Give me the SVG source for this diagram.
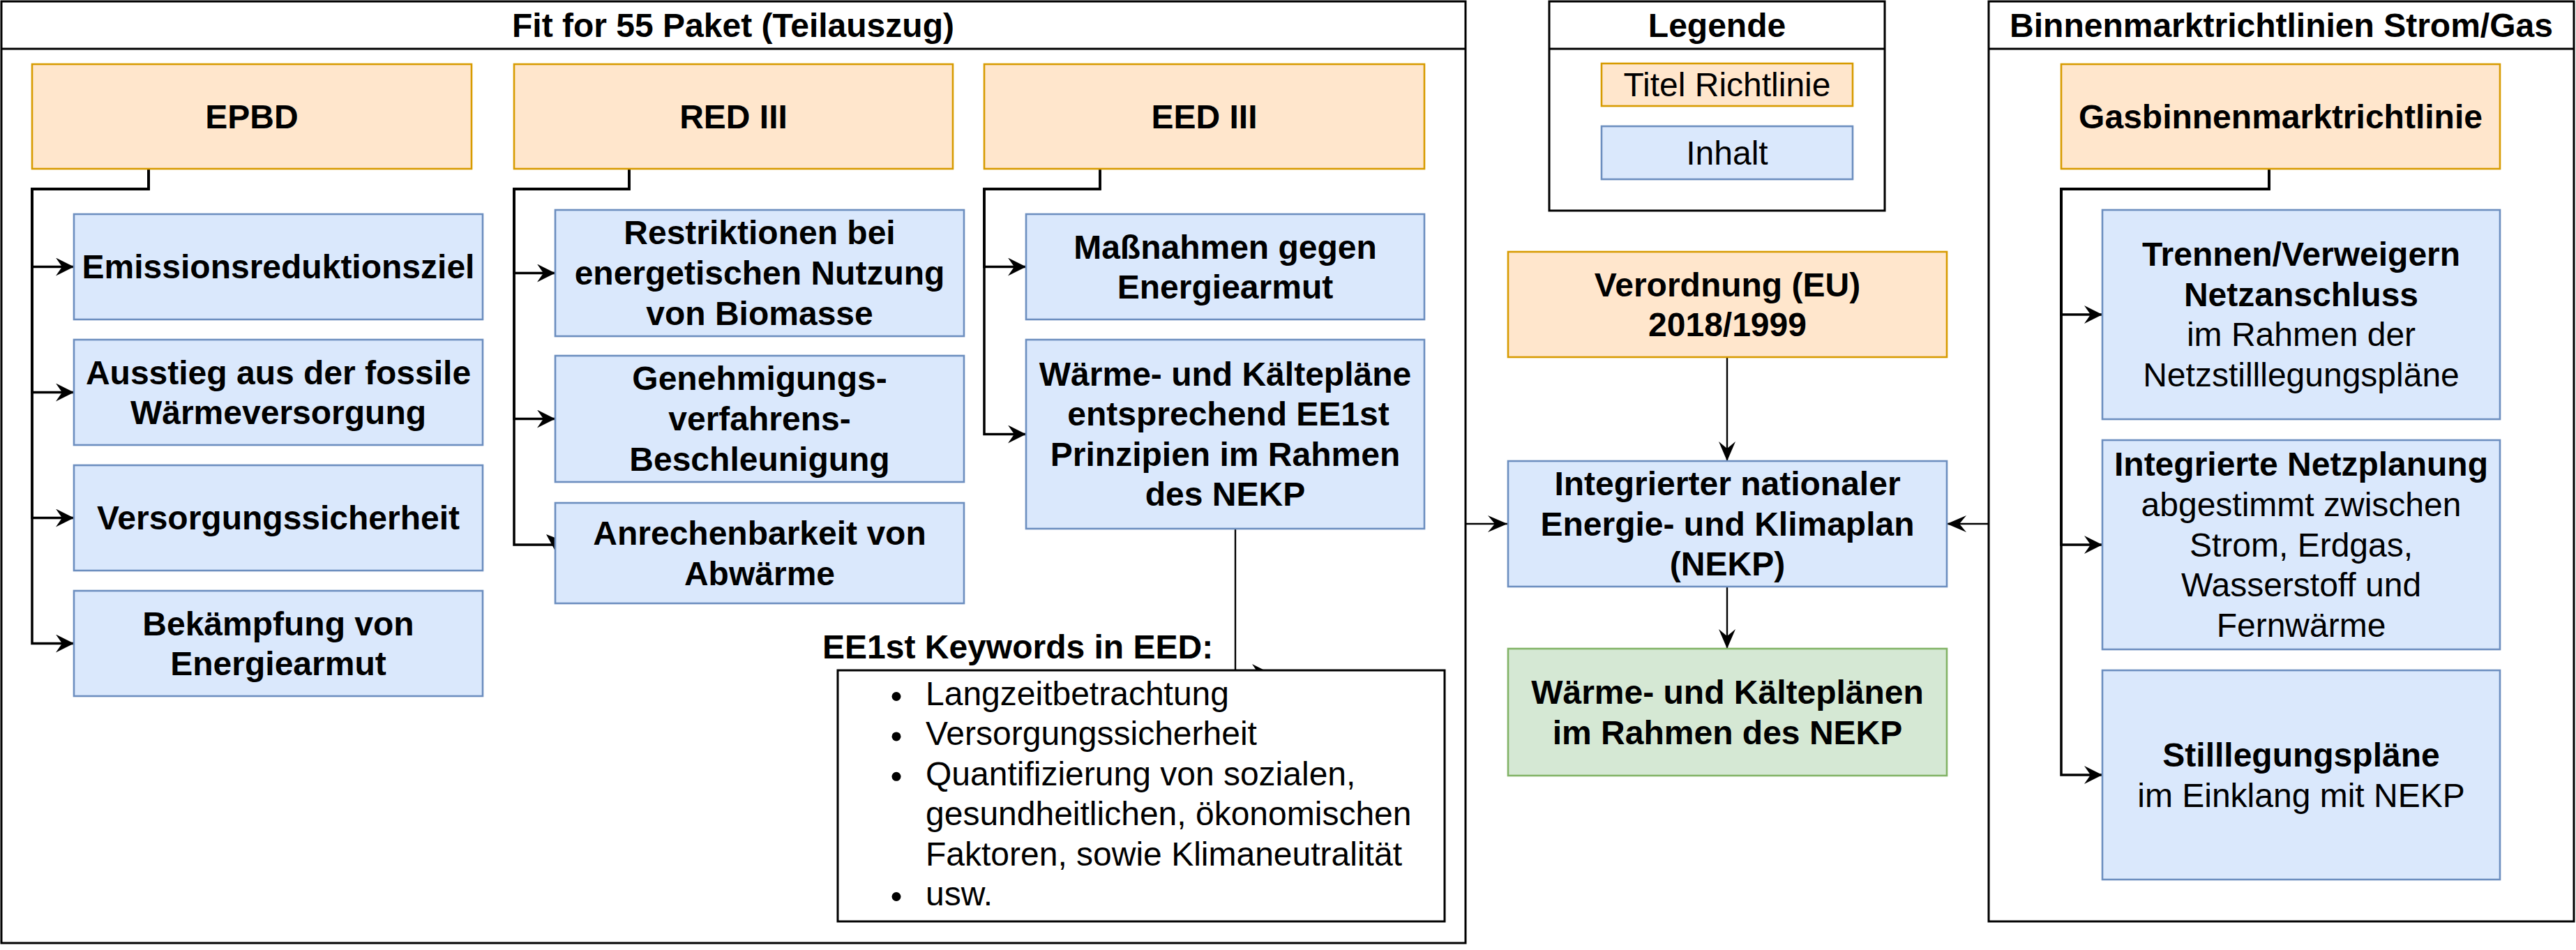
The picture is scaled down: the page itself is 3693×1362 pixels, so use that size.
<svg xmlns="http://www.w3.org/2000/svg" width="3693" height="1362" viewBox="0 0 3693 1362">
<defs>
<style>
text{font-family:"Liberation Sans",Arial,Helvetica,sans-serif;font-size:48px;fill:#000;text-anchor:middle}
.b{font-weight:bold}
.l{text-anchor:start}
.frame{fill:#fff;stroke:#000;stroke-width:3}
.org{fill:#ffe6cc;stroke:#d79b00;stroke-width:2.6}
.blu{fill:#dae8fc;stroke:#6c8ebf;stroke-width:2.6}
.grn{fill:#d5e8d4;stroke:#82b366;stroke-width:2.6}
.tr{fill:none;stroke:#000;stroke-width:3.5}
.th{fill:none;stroke:#000;stroke-width:2.4}
</style>
<marker id="arr" markerUnits="userSpaceOnUse" viewBox="0 0 26 26" markerWidth="26" markerHeight="26" refX="26" refY="13" orient="auto">
<path d="M0,0 L26,13 L0,26 L9,13 Z" fill="#000"/>
</marker>
<marker id="arrT" markerUnits="userSpaceOnUse" viewBox="0 0 28 24" markerWidth="28" markerHeight="24" refX="28" refY="12" orient="auto">
<path d="M0,0 L28,12 L0,24 L10,12 Z" fill="#000"/>
</marker>
</defs>
<rect width="3693" height="1362" fill="#fff"/>

<g id="frame-fit55">
<rect class="frame" x="2" y="2" width="2099" height="1350"/>
<line x1="2" y1="70" x2="2101" y2="70" stroke="#000" stroke-width="3"/>
<text class="b" x="1051" y="52.5">Fit for 55 Paket (Teilauszug)</text>
</g>
<g id="frame-legende">
<rect class="frame" x="2221" y="2" width="481" height="300"/>
<line x1="2221" y1="70" x2="2702" y2="70" stroke="#000" stroke-width="3"/>
<text class="b" x="2461.5" y="52.5">Legende</text>
</g>
<g id="frame-binnen">
<rect class="frame" x="2851" y="2" width="839" height="1319"/>
<line x1="2851" y1="70" x2="3690" y2="70" stroke="#000" stroke-width="3"/>
<text class="b" x="3270.5" y="52.5">Binnenmarktrichtlinien Strom/Gas</text>
</g>

<g id="connectors">
<path class="tr" d="M213,242 V271 H46 V382.5 H106" marker-end="url(#arr)"/>
<path class="tr" d="M213,242 V271 H46 V562.5 H106" marker-end="url(#arr)"/>
<path class="tr" d="M213,242 V271 H46 V742.5 H106" marker-end="url(#arr)"/>
<path class="tr" d="M213,242 V271 H46 V922.5 H106" marker-end="url(#arr)"/>
<path class="tr" d="M902,242 V271 H737 V391.5 H796" marker-end="url(#arr)"/>
<path class="tr" d="M902,242 V271 H737 V600.5 H796" marker-end="url(#arr)"/>
<path class="tr" d="M902,242 V271 H737 V781 H795"/>
<polygon points="783,766 796,771 796,790" fill="#000"/>
<path class="tr" d="M1577,242 V271 H1411 V382.5 H1471" marker-end="url(#arr)"/>
<path class="tr" d="M1577,242 V271 H1411 V622.5 H1471" marker-end="url(#arr)"/>
<path class="tr" d="M3253,242 V271 H2955 V451 H3014" marker-end="url(#arr)"/>
<path class="tr" d="M3253,242 V271 H2955 V781 H3014" marker-end="url(#arr)"/>
<path class="tr" d="M3253,242 V271 H2955 V1111 H3014" marker-end="url(#arr)"/>
<path class="th" d="M2476,512 V661" marker-end="url(#arrT)"/>
<path class="th" d="M2476,841 V930" marker-end="url(#arrT)"/>
<path class="th" d="M2101,751 H2161" marker-end="url(#arrT)"/>
<path class="th" d="M2851,751 H2791" marker-end="url(#arrT)"/>
<path class="th" d="M1771,758 V961"/>
<polygon points="1795,952 1813,961 1801,961" fill="#000"/>
</g>

<g id="node-epbd"><rect class="org" x="46" y="92" width="630" height="150"/><text class="b" x="361" y="183.5">EPBD</text></g>
<g id="node-red3"><rect class="org" x="737" y="92" width="629" height="150"/><text class="b" x="1051.5" y="183.5">RED III</text></g>
<g id="node-eed3"><rect class="org" x="1411" y="92" width="631" height="150"/><text class="b" x="1726.5" y="183.5">EED III</text></g>

<g id="node-e1"><rect class="blu" x="106" y="307" width="586" height="151"/><text class="b" x="399" y="399">Emissionsreduktionsziel</text></g>
<g id="node-e2"><rect class="blu" x="106" y="487" width="586" height="151"/><text class="b" x="399" y="550.5">Ausstieg aus der fossile<tspan x="399" y="608">Wärmeversorgung</tspan></text></g>
<g id="node-e3"><rect class="blu" x="106" y="667" width="586" height="151"/><text class="b" x="399" y="759">Versorgungssicherheit</text></g>
<g id="node-e4"><rect class="blu" x="106" y="847" width="586" height="151"/><text class="b" x="399" y="910.5">Bekämpfung von<tspan x="399" y="968">Energiearmut</tspan></text></g>

<g id="node-r1"><rect class="blu" x="796" y="301" width="586" height="181"/><text class="b" x="1089" y="350.3">Restriktionen bei<tspan x="1089" y="407.9">energetischen Nutzung</tspan><tspan x="1089" y="465.5">von Biomasse</tspan></text></g>
<g id="node-r2"><rect class="blu" x="796" y="510" width="586" height="181"/><text class="b" x="1089" y="559.3">Genehmigungs-<tspan x="1089" y="616.9">verfahrens-</tspan><tspan x="1089" y="674.5">Beschleunigung</tspan></text></g>
<g id="node-r3"><rect class="blu" x="796" y="721" width="586" height="144"/><text class="b" x="1089" y="781">Anrechenbarkeit von<tspan x="1089" y="838.6">Abwärme</tspan></text></g>

<g id="node-d1"><rect class="blu" x="1471" y="307" width="571" height="151"/><text class="b" x="1756.5" y="370.5">Maßnahmen gegen<tspan x="1756.5" y="428">Energiearmut</tspan></text></g>
<g id="node-d2"><rect class="blu" x="1471" y="487" width="571" height="271"/><text class="b" x="1756.5" y="552.6">Wärme- und Kältepläne<tspan x="1761" y="610.2">entsprechend EE1st</tspan><tspan x="1756.5" y="667.8">Prinzipien im Rahmen</tspan><tspan x="1756.5" y="725.4">des NEKP</tspan></text></g>

<g id="node-keywords">
<text class="b l" x="1179" y="944">EE1st Keywords in EED:</text>
<rect class="frame" x="1201" y="961" width="870" height="360"/>
<circle cx="1285" cy="998.5" r="6.5"/>
<circle cx="1285" cy="1055.9" r="6.5"/>
<circle cx="1285" cy="1113.3" r="6.5"/>
<circle cx="1285" cy="1285.5" r="6.5"/>
<text class="l" x="1327" y="1011">Langzeitbetrachtung</text>
<text class="l" x="1327" y="1068.4">Versorgungssicherheit</text>
<text class="l" x="1327" y="1125.8">Quantifizierung von sozialen,</text>
<text class="l" x="1327" y="1183.2">gesundheitlichen, ökonomischen</text>
<text class="l" x="1327" y="1240.6">Faktoren, sowie Klimaneutralität</text>
<text class="l" x="1327" y="1298">usw.</text>
</g>

<g id="legend-titel"><rect class="org" x="2296" y="91" width="360" height="61"/><text x="2476" y="138">Titel Richtlinie</text></g>
<g id="legend-inhalt"><rect class="blu" x="2296" y="181" width="360" height="76"/><text x="2476" y="235.5">Inhalt</text></g>

<g id="node-verordnung"><rect class="org" x="2162" y="361" width="629" height="151"/><text class="b" x="2476.5" y="424.5">Verordnung (EU)<tspan x="2476.5" y="482">2018/1999</tspan></text></g>
<g id="node-nekp"><rect class="blu" x="2162" y="661" width="629" height="180"/><text class="b" x="2476.5" y="710.2">Integrierter nationaler<tspan x="2476.5" y="767.8">Energie- und Klimaplan</tspan><tspan x="2476.5" y="825.4">(NEKP)</tspan></text></g>
<g id="node-waerme"><rect class="grn" x="2162" y="930" width="629" height="182"/><text class="b" x="2476.5" y="1009">Wärme- und Kälteplänen<tspan x="2476.5" y="1066.6">im Rahmen des NEKP</tspan></text></g>

<g id="node-gas"><rect class="org" x="2955" y="92" width="629" height="150"/><text class="b" x="3269.5" y="183.5">Gasbinnenmarktrichtlinie</text></g>
<g id="node-g1"><rect class="blu" x="3014" y="301" width="570" height="300"/><text class="b" x="3299" y="381.2">Trennen/Verweigern<tspan x="3299" y="438.8">Netzanschluss</tspan></text><text x="3299" y="496.4">im Rahmen der<tspan x="3299" y="554">Netzstilllegungspläne</tspan></text></g>
<g id="node-g2"><rect class="blu" x="3014" y="631" width="570" height="300"/><text class="b" x="3299" y="682.4">Integrierte Netzplanung</text><text x="3299" y="740">abgestimmt zwischen<tspan x="3299" y="797.6">Strom, Erdgas,</tspan><tspan x="3299" y="855.2">Wasserstoff und</tspan><tspan x="3299" y="912.8">Fernwärme</tspan></text></g>
<g id="node-g3"><rect class="blu" x="3014" y="961" width="570" height="300"/><text class="b" x="3299" y="1099">Stilllegungspläne</text><text x="3299" y="1156.6">im Einklang mit NEKP</text></g>
</svg>
